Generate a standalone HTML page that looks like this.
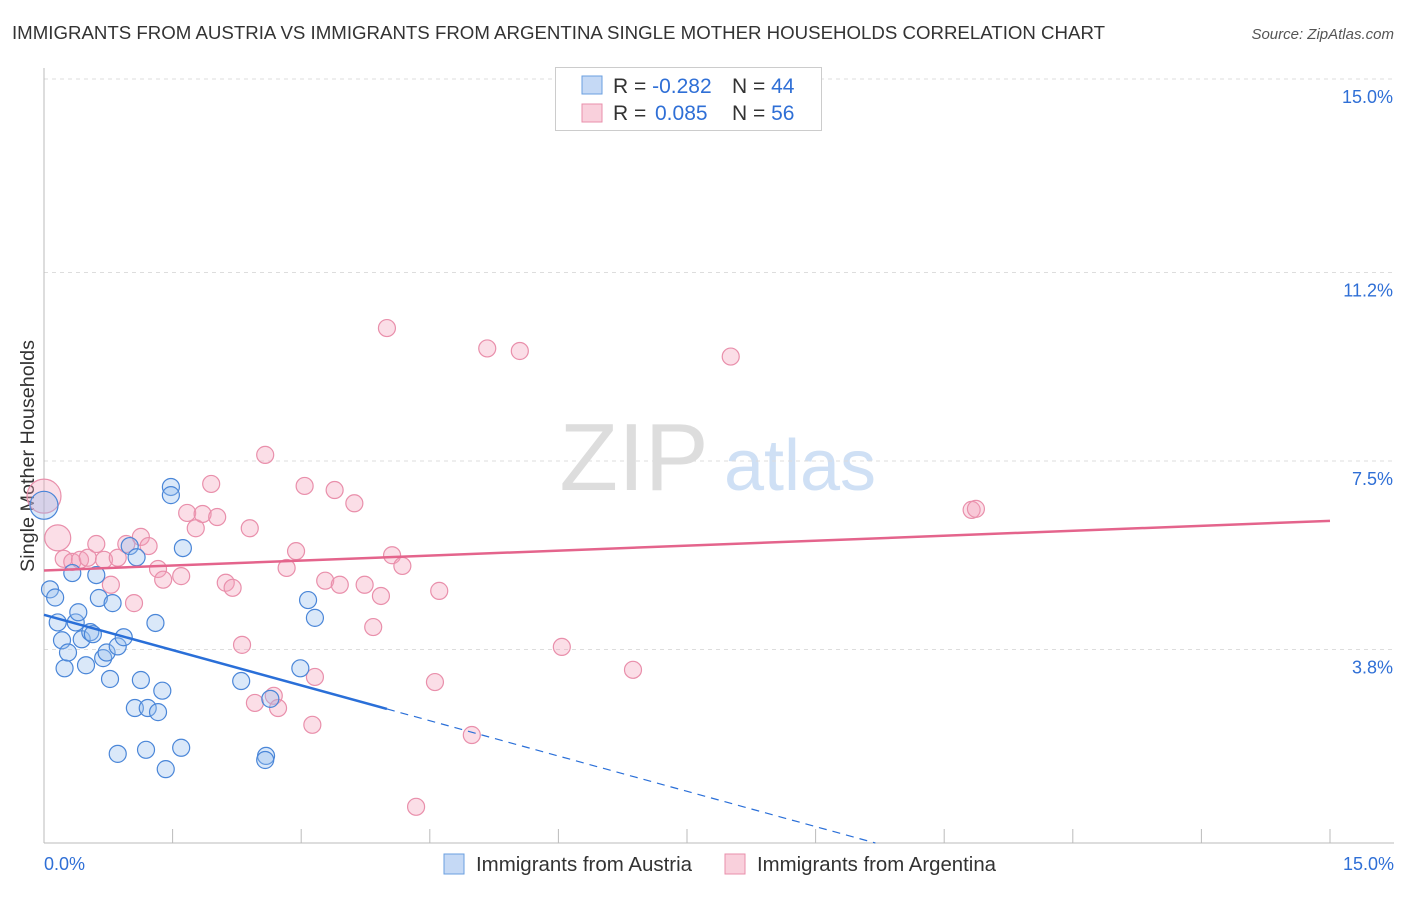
<!DOCTYPE html>
<html><head><meta charset="utf-8"><style>
body{margin:0;background:#fff;font-family:"Liberation Sans",sans-serif;}
svg text{font-family:"Liberation Sans",sans-serif;}
</style></head><body>
<svg id="c" width="1406" height="892" xmlns="http://www.w3.org/2000/svg">
<text x="12" y="39" font-size="18" fill="#333" textLength="1093" lengthAdjust="spacingAndGlyphs">IMMIGRANTS FROM AUSTRIA VS IMMIGRANTS FROM ARGENTINA SINGLE MOTHER HOUSEHOLDS CORRELATION CHART</text>
<text x="1394" y="39" font-size="15" fill="#555" font-style="italic" text-anchor="end">Source: ZipAtlas.com</text>
<text x="634" y="490" font-size="96" fill="#ddd" font-family="Liberation Serif" text-anchor="middle">ZIP</text>
<text x="800" y="490" font-size="72" fill="#cfe0f5" text-anchor="middle">atlas</text>
<text transform="translate(34,456) rotate(-90)" font-size="19" fill="#333" text-anchor="middle" textLength="232" lengthAdjust="spacingAndGlyphs">Single Mother Households</text>
<g id="grid"></g><g id="pts"></g><g id="trend"></g>
<g>
<rect x="555.5" y="67.5" width="266" height="63" fill="#fff" stroke="#ccc"/>
<rect x="582" y="76" width="20" height="18" fill="#c5d9f5" stroke="#6a9fe0"/>
<rect x="582" y="104" width="20" height="18" fill="#f9d0dc" stroke="#e98fab"/>
<text x="613" y="93" font-size="21" fill="#333">R = <tspan fill="#2f6fd6">-0.282</tspan><tspan x="732">N = </tspan><tspan fill="#2f6fd6">44</tspan></text>
<text x="613" y="120" font-size="21" fill="#333">R = <tspan fill="#2f6fd6" x="655">0.085</tspan><tspan x="732">N = </tspan><tspan fill="#2f6fd6">56</tspan></text>
</g>
<g>
<rect x="444" y="854" width="20" height="20" fill="#c5d9f5" stroke="#6a9fe0"/>
<text x="476" y="871" font-size="20" fill="#333" textLength="216" lengthAdjust="spacingAndGlyphs">Immigrants from Austria</text>
<rect x="725" y="854" width="20" height="20" fill="#f9d0dc" stroke="#e98fab"/>
<text x="757" y="871" font-size="20" fill="#333" textLength="239" lengthAdjust="spacingAndGlyphs">Immigrants from Argentina</text>
</g>
<text x="44" y="870" font-size="18" fill="#2f6fd6">0.0%</text>
<text x="1394" y="870" font-size="18" fill="#2f6fd6" text-anchor="end">15.0%</text>
</svg>
<script>
const yTicks=[15.0,11.2,7.5,3.8];
const yTickLabels=["15.0%","11.2%","7.5%","3.8%"];
const austriaX=[0,0.07,0.13,0.16,0.21,0.24,0.28,0.33,0.37,0.40,0.44,0.49,0.54,0.57,0.61,0.64,0.69,0.73,0.77,0.80,0.86,0.93,1.00,1.08,1.06,1.13,1.19,1.21,1.30,1.33,1.38,1.42,1.48,1.48,1.60,1.62,2.30,2.59,2.58,2.64,2.99,3.08,3.16,0.86];
const austriaY=[6.63,4.98,4.82,4.33,3.98,3.43,3.74,5.30,4.33,4.53,4.00,3.49,4.14,4.10,5.26,4.81,3.63,3.74,3.22,4.71,3.86,4.04,5.83,5.61,2.65,3.20,1.83,2.65,4.32,2.57,2.99,1.45,6.99,6.83,1.87,5.79,3.18,1.71,1.63,2.83,3.43,4.77,4.42,1.75];
const argX=[0,0.16,0.23,0.33,0.42,0.51,0.61,0.70,0.78,0.86,0.96,1.05,1.13,1.22,1.33,1.39,1.60,1.67,1.77,1.85,1.95,2.02,2.12,2.20,2.31,2.40,2.46,2.58,2.68,2.73,2.83,2.94,3.04,3.13,3.16,3.28,3.39,3.45,3.62,3.74,3.84,3.93,4.00,4.06,4.18,4.34,4.56,4.61,4.99,5.17,5.55,6.04,6.87,8.01,10.82,10.87];
const argY=[6.81,5.99,5.58,5.52,5.56,5.60,5.87,5.56,5.07,5.60,5.87,4.71,6.01,5.83,5.38,5.17,5.24,6.48,6.18,6.46,7.05,6.40,5.11,5.01,3.89,6.18,2.75,7.62,2.89,2.65,5.40,5.73,7.01,2.32,3.26,5.15,6.93,5.07,6.67,5.07,4.24,4.85,10.11,5.65,5.44,0.71,3.16,4.95,2.12,9.71,9.66,3.85,3.40,9.55,6.54,6.56];
const X0=44,X1=1330,Y0=843,Y1=79,MAX=15;
const sx=v=>X0+v/MAX*(X1-X0), sy=v=>Y0-v/MAX*(Y0-Y1);
const NS="http://www.w3.org/2000/svg";
function mk(t,a,p){const e=document.createElementNS(NS,t);for(const k in a)e.setAttribute(k,a[k]);p.appendChild(e);return e;}
const grid=document.getElementById('grid');
yTicks.forEach((v,i)=>{
 const l=mk('line',{x1:44,x2:1394,y1:sy(v),y2:sy(v),stroke:'#ddd','stroke-dasharray':'4,4'},grid);
 
 
 const t=mk('text',{x:1393,y:sy(v)+24,'font-size':18,fill:'#2f6fd6','text-anchor':'end'},grid);
 t.textContent=yTickLabels[i];
 
 
});
mk('line',{x1:44,x2:44,y1:68,y2:843,stroke:'#bbb'},grid);
mk('line',{x1:44,x2:1394,y1:843,y2:843,stroke:'#bbb'},grid);
for(let i=0;i<=10;i++){const xx=sx(i*1.5);const tk=mk('line',{x1:xx,x2:xx,y1:829,y2:843,stroke:'#bbb'},grid);
 
 }
const pts=document.getElementById('pts');
function dot(x,y,r,fill,stroke,name){const c=mk('circle',{cx:sx(x),cy:sy(y),r:r,fill:fill,stroke:stroke,'stroke-width':1.2},pts);
 
 }
argX.forEach((x,i)=>dot(x,argY[i],i<2?(i==0?17:13):8.5,'rgba(244,160,185,0.35)','#e98fab','argentina-point'));
austriaX.forEach((x,i)=>dot(x,austriaY[i],i==0?14:8.5,'rgba(150,188,238,0.35)','#4a86d8','austria-point'));
const tr=document.getElementById('trend');
const blueA=4.48,blueB=-0.462,argA=5.35,argB=0.065;
const b1=mk('line',{x1:sx(0),y1:sy(blueA),x2:sx(4),y2:sy(blueA+blueB*4),stroke:'#2a6fd8','stroke-width':2.5},tr);


const xEnd=-blueA/blueB;
const b2=mk('line',{x1:sx(4),y1:sy(blueA+blueB*4),x2:sx(xEnd),y2:sy(blueA+blueB*xEnd),stroke:'#2a6fd8','stroke-width':1.2,'stroke-dasharray':'8,6'},tr);


const p1=mk('line',{x1:sx(0),y1:sy(argA),x2:sx(15),y2:sy(argA+argB*15),stroke:'#e4648c','stroke-width':2.5},tr);


</script>
</body></html>
